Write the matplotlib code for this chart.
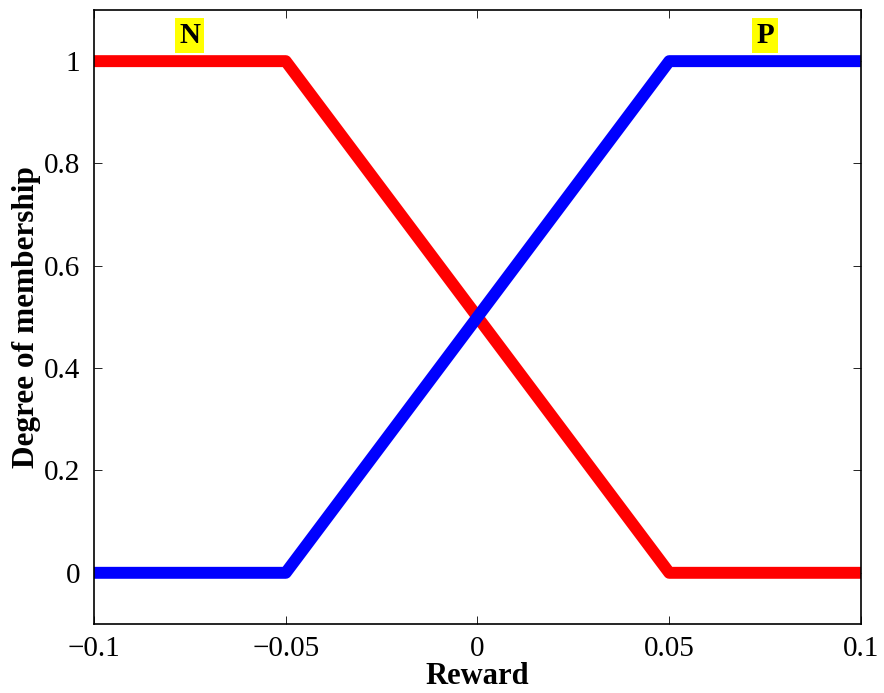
import numpy as np
import matplotlib.pyplot as plt

# membership function breakpoints
reward = [-0.1, -0.05, 0.05, 0.1]
mu_n = [1, 1, 0, 0]
mu_p = [0, 0, 1, 1]
labels = ['N', 'P']
label_x = [-0.075, 0.075]
label_y = 1.05

plt.rcParams['font.family'] = ['Liberation Serif', 'DejaVu Serif']

fig = plt.figure(figsize=(8.84, 6.93), dpi=100)
ax = fig.add_axes([0.1063, 0.0996, 0.8677, 0.886])

ax.plot(reward, mu_n, color='#ff0000', lw=8.6, solid_joinstyle='round', solid_capstyle='butt')
ax.plot(reward, mu_p, color='#0000ff', lw=8.6, solid_joinstyle='round', solid_capstyle='butt')

for t, x in zip(labels, label_x):
    ax.text(x, label_y, t, ha='center', va='center', fontsize=21, fontweight='bold',
            bbox=dict(facecolor='yellow', edgecolor='none', pad=3))

ax.set_xlim(-0.1, 0.1)
ax.set_ylim(-0.1, 1.1)
ax.set_xticks([-0.1, -0.05, 0, 0.05, 0.1])
ax.set_xticklabels(['\u22120.1', '\u22120.05', '0', '0.05', '0.1'])
ax.set_yticks([0, 0.2, 0.4, 0.6, 0.8, 1])
ax.set_yticklabels(['0', '0.2', '0.4', '0.6', '0.8', '1'])
ax.tick_params(direction='in', top=True, right=True, labelsize=21, length=6, width=0.6)
ax.tick_params(axis='x', pad=9)
ax.tick_params(axis='y', pad=10)
for s in ax.spines.values():
    s.set_linewidth(1.2)

ax.set_xlabel('Reward', fontsize=22, fontweight='bold', labelpad=0)
ax.set_ylabel('Degree of membership', fontsize=22.5, fontweight='bold', labelpad=2)

fig.savefig('out.png', dpi=100)
